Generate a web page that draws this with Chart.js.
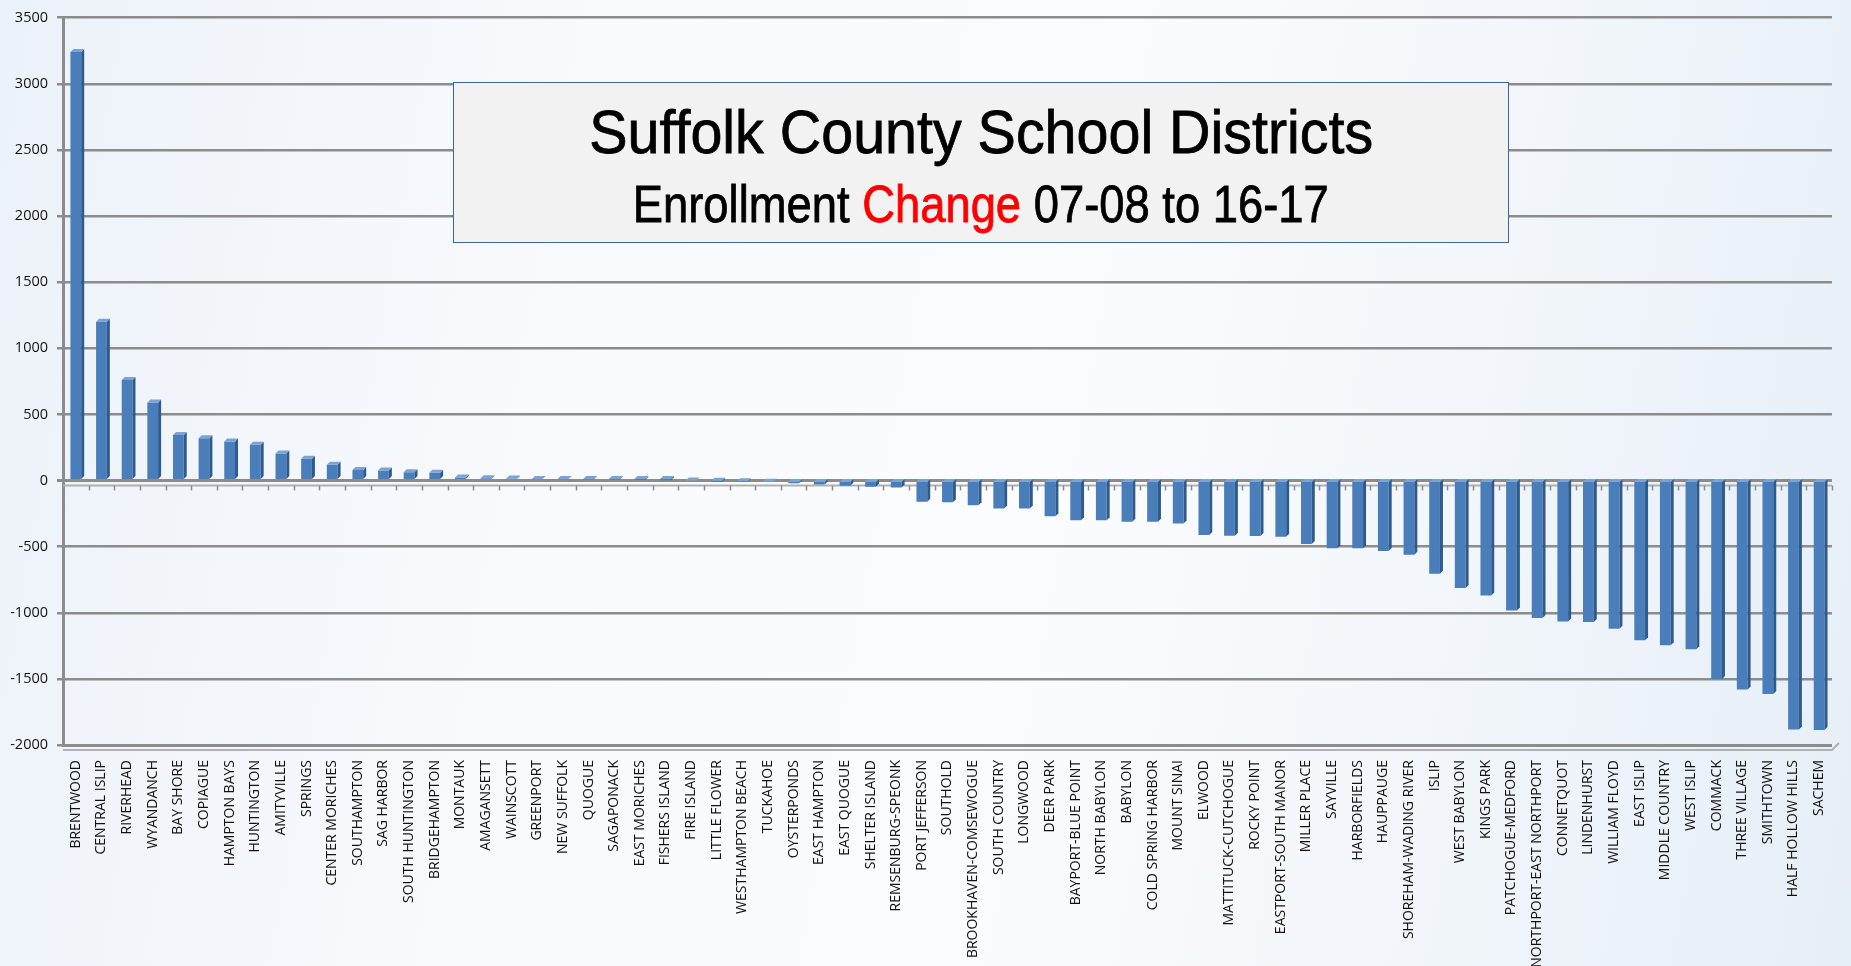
<!DOCTYPE html>
<html>
<head>
<meta charset="utf-8">
<script src="https://cdn.jsdelivr.net/npm/chart.js@4/dist/chart.umd.min.js"></script>
<style>
  html, body {
    margin: 0;
    padding: 0;
    overflow: hidden;
  }
  #wrap {
    position: relative;
    width: 1851px;
    height: 966px;
    background: linear-gradient(100deg, #ecf2f9 0%, #f8fafd 30%, #fbfcfe 55%, #f3f7fb 75%, #e6eef7 100%);
  }
  #chart {
    position: absolute;
    left: 0;
    top: 0;
  }
  #titleBox {
    position: absolute;
    left: 453px;
    top: 82px;
    width: 1054px;
    height: 159px;
    background: #f2f2f2;
    border: 1.5px solid #3d64a0;
    font-family: "Liberation Sans Narrow", "Liberation Sans", Arial, sans-serif;
    color: #000;
    -webkit-text-stroke: 0.8px currentColor;
  }
  .line {
    position: absolute;
    left: 0;
    right: 0;
    text-align: center;
    line-height: 1;
    white-space: nowrap;
  }
  .line span.inner {
    display: inline-block;
    transform-origin: center;
  }
  #t1 { top: 18px; font-size: 62px; }
  #t2 { top: 95px; font-size: 52.5px; }
  .red { color: #ff0000; }
</style>
</head>
<body>
<div id="wrap">
  <canvas id="chart" width="1851" height="966"></canvas>
  <div id="titleBox">
    <div class="line" id="t1"><span class="inner" data-w="784">Suffolk County School Districts</span></div>
    <div class="line" id="t2"><span class="inner" data-w="696">Enrollment <span class="red">Change</span> 07-08 to 16-17</span></div>
  </div>
</div>
<script>
const districts = [
  "BRENTWOOD", "CENTRAL ISLIP", "RIVERHEAD", "WYANDANCH", "BAY SHORE",
  "COPIAGUE", "HAMPTON BAYS", "HUNTINGTON", "AMITYVILLE", "SPRINGS",
  "CENTER MORICHES", "SOUTHAMPTON", "SAG HARBOR", "SOUTH HUNTINGTON", "BRIDGEHAMPTON",
  "MONTAUK", "AMAGANSETT", "WAINSCOTT", "GREENPORT", "NEW SUFFOLK",
  "QUOGUE", "SAGAPONACK", "EAST MORICHES", "FISHERS ISLAND", "FIRE ISLAND",
  "LITTLE FLOWER", "WESTHAMPTON BEACH", "TUCKAHOE", "OYSTERPONDS", "EAST HAMPTON",
  "EAST QUOGUE", "SHELTER ISLAND", "REMSENBURG-SPEONK", "PORT JEFFERSON", "SOUTHOLD",
  "BROOKHAVEN-COMSEWOGUE", "SOUTH COUNTRY", "LONGWOOD", "DEER PARK", "BAYPORT-BLUE POINT",
  "NORTH BABYLON", "BABYLON", "COLD SPRING HARBOR", "MOUNT SINAI", "ELWOOD",
  "MATTITUCK-CUTCHOGUE", "ROCKY POINT", "EASTPORT-SOUTH MANOR", "MILLER PLACE", "SAYVILLE",
  "HARBORFIELDS", "HAUPPAUGE", "SHOREHAM-WADING RIVER", "ISLIP", "WEST BABYLON",
  "KINGS PARK", "PATCHOGUE-MEDFORD", "NORTHPORT-EAST NORTHPORT", "CONNETQUOT", "LINDENHURST",
  "WILLIAM FLOYD", "EAST ISLIP", "MIDDLE COUNTRY", "WEST ISLIP", "COMMACK",
  "THREE VILLAGE", "SMITHTOWN", "HALF HOLLOW HILLS", "SACHEM"
];

const enrollmentChange = [
  3240, 1200, 760, 590, 345,
  320, 295, 270, 205, 165,
  120, 80, 75, 62, 58,
  22, 18, 15, 12, 10,
  8, 6, 4, 2, 0,
  -2, -5, -10, -20, -30,
  -40, -48, -52, -160, -165,
  -187, -212, -212, -270, -300,
  -300, -312, -312, -325, -412,
  -417, -420, -425, -480, -512,
  -512, -532, -562, -705, -812,
  -870, -982, -1040, -1067, -1070,
  -1120, -1207, -1245, -1275, -1500,
  -1580, -1615, -1882, -1887
];

const yMin = -2000;
const yMax = 3500;
const yStep = 500;

const gridGray = "#8c8c8c";

// fake 3d sides on the bars + double floor lines, like the old excel chart
const bars3d = {
  id: "bars3d",
  beforeDatasetsDraw(chart) {
    const ctx = chart.ctx;
    const x = chart.scales.x;
    const y = chart.scales.y;
    const zero = y.getPixelForValue(0);
    const bottom = y.getPixelForValue(yMin);
    const step = x.width / districts.length;
    ctx.save();
    ctx.strokeStyle = "#b0b0b0";
    ctx.lineWidth = 2;
    ctx.beginPath();
    ctx.moveTo(x.left, zero + 5);
    ctx.lineTo(x.right, zero + 5);
    ctx.moveTo(x.left, bottom + 5);
    ctx.lineTo(x.right, bottom + 5);
    ctx.lineTo(x.right + 7, bottom - 2);
    ctx.stroke();
    ctx.strokeStyle = gridGray;
    ctx.lineWidth = 1.5;
    ctx.beginPath();
    for (let i = 1; i <= districts.length; i++) {
      const px = Math.round(x.left + i * step) + 0.5;
      ctx.moveTo(px, zero + 5);
      ctx.lineTo(px, zero + 10);
    }
    ctx.stroke();
    ctx.restore();
  },
  afterDatasetsDraw(chart) {
    const ctx = chart.ctx;
    const d = 3;
    ctx.save();
    chart.getDatasetMeta(0).data.forEach((el) => {
      const p = el.getProps(["x", "y", "base", "width"], true);
      const l = p.x - p.width / 2;
      const r = p.x + p.width / 2;
      const top = Math.min(p.y, p.base);
      const bot = Math.max(p.y, p.base);
      ctx.fillStyle = "#2f5a8c";
      ctx.beginPath();
      ctx.moveTo(r, top);
      ctx.lineTo(r + d, top - d);
      ctx.lineTo(r + d, bot - d);
      ctx.lineTo(r, bot);
      ctx.closePath();
      ctx.fill();
      ctx.fillStyle = "#7aa3d6";
      ctx.beginPath();
      ctx.moveTo(l, top);
      ctx.lineTo(l + d, top - d);
      ctx.lineTo(r + d, top - d);
      ctx.lineTo(r, top);
      ctx.closePath();
      ctx.fill();
    });
    ctx.restore();
  }
};

new Chart(document.getElementById("chart"), {
  type: "bar",
  data: {
    labels: districts,
    datasets: [
      {
        label: "Enrollment Change",
        data: enrollmentChange,
        backgroundColor: "#4a7ebb",
        borderWidth: 0,
        barPercentage: 0.42,
        categoryPercentage: 1.0,
      },
    ],
  },
  options: {
    responsive: false,
    animation: false,
    devicePixelRatio: 1,
    layout: {
      padding: { top: 10, right: 9, left: 0, bottom: 0 },
    },
    plugins: {
      legend: { display: false },
      title: { display: false },
      tooltip: { enabled: false },
    },
    scales: {
      x: {
        position: "bottom",
        grid: { display: false, drawTicks: false },
        border: { display: true, color: gridGray, width: 3 },
        ticks: {
          autoSkip: false,
          minRotation: 90,
          maxRotation: 90,
          padding: 15,
          color: "#111",
          font: { family: "'Open Sans', 'DejaVu Sans', sans-serif", size: 14 },
        },
        afterFit(scale) {
          scale.height = 221;
        },
      },
      y: {
        min: yMin,
        max: yMax,
        ticks: {
          stepSize: yStep,
          padding: 9,
          color: "#111",
          font: { family: "'Open Sans', 'DejaVu Sans', sans-serif", size: 14.5 },
          callback: (v) => String(v),
        },
        grid: {
          color: gridGray,
          lineWidth: (c) => (c.tick && c.tick.value === 0 ? 3 : 2.5),
          tickLength: 6,
        },
        border: { display: true, color: gridGray, width: 3 },
        afterFit(scale) {
          scale.width = 63;
        },
      },
    },
  },
  plugins: [bars3d],
});

// squeeze the title lines to the condensed look of the original
document.querySelectorAll("#titleBox .inner").forEach((s) => {
  const w = s.getBoundingClientRect().width;
  const target = Number(s.dataset.w);
  s.style.transform = "scaleX(" + (target / w).toFixed(3) + ")";
});
</script>
</body>
</html>
